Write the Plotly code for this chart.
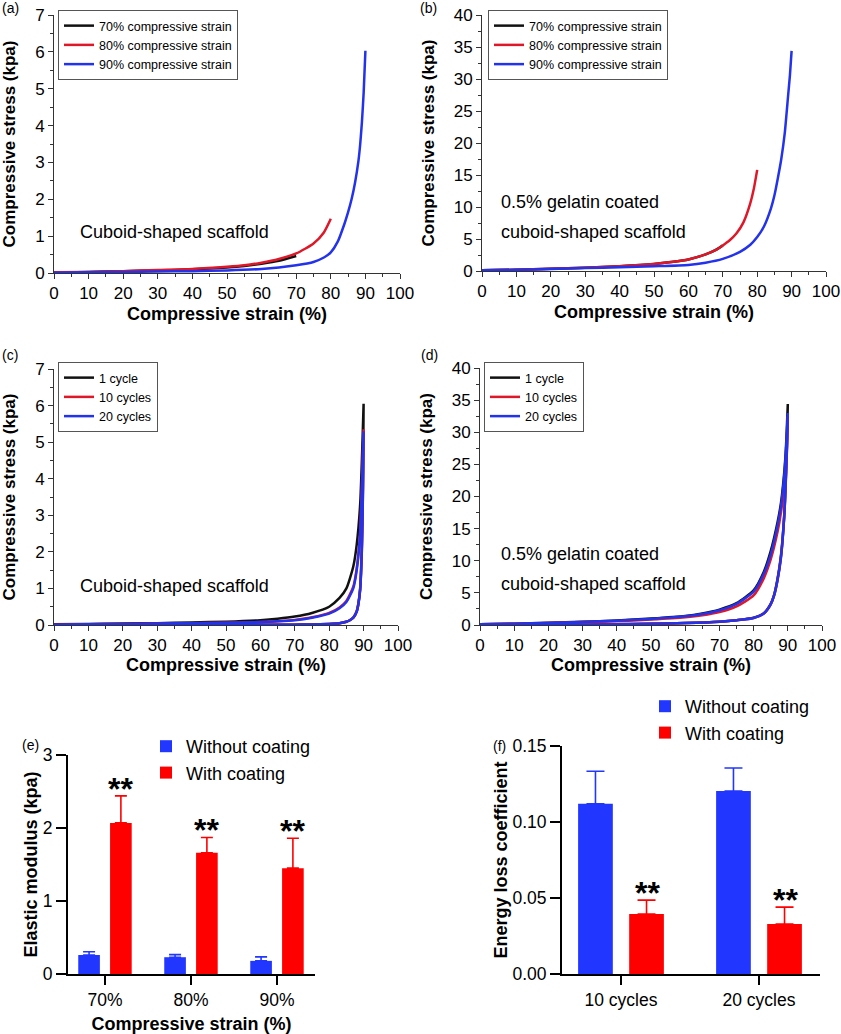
import plotly.graph_objects as go

W, H = 841, 1034
FONT = "Arial, 'Liberation Sans', sans-serif"

# ---------------- data ----------------
# (a) uncoated scaffold, compression to 70/80/90 %
strain_a70 = [0, 10, 20, 30, 40, 50, 55, 60, 65, 70]
stress_a70 = [0.01, 0.03, 0.05, 0.07, 0.10, 0.15, 0.19, 0.25, 0.33, 0.46]
strain_a80 = [0, 10, 20, 30, 40, 50, 55, 60, 65, 70, 75, 78, 80]
stress_a80 = [0.02, 0.03, 0.05, 0.08, 0.11, 0.17, 0.21, 0.28, 0.38, 0.53, 0.80, 1.10, 1.47]
strain_a90 = [0, 10, 20, 30, 40, 50, 60, 65, 70, 75, 78, 80, 82, 84, 85, 86, 87, 88, 88.5, 89, 89.5, 90]
stress_a90 = [0.01, 0.02, 0.03, 0.04, 0.05, 0.07, 0.11, 0.15, 0.21, 0.30, 0.42, 0.56, 0.85, 1.35,
              1.65, 2.0, 2.45, 3.05, 3.5, 4.1, 4.9, 6.03]

# (b) gelatin-coated scaffold
strain_b70 = [0, 10, 20, 30, 40, 50, 55, 60, 65, 68, 70]
stress_b70 = [0.1, 0.2, 0.35, 0.5, 0.75, 1.1, 1.4, 1.8, 2.6, 3.3, 4.0]
strain_b80 = [0, 10, 20, 30, 40, 50, 55, 60, 65, 68, 70, 72, 74, 76, 78, 79, 80]
stress_b80 = [0.1, 0.2, 0.35, 0.5, 0.75, 1.1, 1.4, 1.8, 2.6, 3.3, 4.0, 4.8, 5.9, 7.6, 10.6, 12.8, 15.8]
strain_b90 = [0, 10, 20, 30, 40, 50, 60, 65, 70, 75, 78, 80, 82, 84, 85, 86, 87, 88, 89, 89.5, 90]
stress_b90 = [0.1, 0.2, 0.3, 0.45, 0.6, 0.75, 0.95, 1.3, 1.9, 3.0, 4.1, 5.3, 7.0, 9.8, 11.8, 14.5,
              17.5, 21.5, 27.5, 30.5, 34.4]

# (c) uncoated scaffold, cyclic loading (loading branch then unloading branch)
strain_c_load = [0, 10, 20, 30, 40, 50, 60, 65, 70, 75, 80, 83, 85, 87, 88, 89, 89.5, 90]
stress_c1_load = [0.02, 0.03, 0.04, 0.05, 0.07, 0.09, 0.13, 0.17, 0.23, 0.33, 0.50, 0.74, 1.0, 1.6, 2.2, 3.3, 4.5, 6.05]
stress_c10_load = [0.01, 0.02, 0.03, 0.04, 0.05, 0.06, 0.08, 0.10, 0.14, 0.21, 0.33, 0.48, 0.66, 1.05, 1.55, 2.55, 3.8, 5.35]
stress_c20_load = [0.01, 0.02, 0.03, 0.04, 0.05, 0.06, 0.08, 0.10, 0.13, 0.20, 0.31, 0.46, 0.63, 1.0, 1.5, 2.5, 3.7, 5.30]
strain_c_unload = [90, 89.8, 89.5, 89, 88.5, 88, 87, 86, 85, 83, 80, 75, 70, 60, 50, 40, 30, 20, 10, 0]
stress_c1_unload = [6.05, 3.8, 2.2, 1.0, 0.6, 0.38, 0.2, 0.13, 0.09, 0.05, 0.03, 0.015, 0.01, 0.005, 0, 0, 0, 0, 0, 0]
stress_c10_unload = [5.35, 3.6, 2.1, 0.98, 0.58, 0.37, 0.2, 0.13, 0.09, 0.05, 0.03, 0.015, 0.01, 0.005, 0, 0, 0, 0, 0, 0]
stress_c20_unload = [5.30, 3.55, 2.05, 0.96, 0.57, 0.36, 0.2, 0.13, 0.09, 0.05, 0.03, 0.015, 0.01, 0.005, 0, 0, 0, 0, 0, 0]

# (d) gelatin-coated scaffold, cyclic loading
strain_d_load = [0, 10, 20, 30, 40, 50, 60, 65, 70, 75, 80, 83, 85, 87, 88, 89, 89.5, 90]
stress_d1_load = [0.1, 0.2, 0.35, 0.5, 0.7, 1.0, 1.4, 1.8, 2.4, 3.4, 5.4, 8.3, 11.5, 16, 19, 24, 28, 34.4]
stress_d10_load = [0.1, 0.2, 0.3, 0.45, 0.6, 0.85, 1.2, 1.5, 2.0, 2.9, 4.6, 7.3, 10.2, 14.5, 17.5, 22, 26, 32.5]
stress_d20_load = [0.1, 0.2, 0.33, 0.48, 0.68, 0.95, 1.35, 1.7, 2.3, 3.3, 5.2, 8.0, 11.0, 15.5, 18.5, 23.5, 27.5, 33.0]
strain_d_unload = [90, 89.8, 89.5, 89, 88, 87, 86, 85, 83, 80, 75, 70, 60, 50, 40, 30, 20, 10, 0]
stress_d1_unload = [34.4, 29, 24, 17.5, 10.8, 7.2, 4.7, 3.3, 1.85, 1.15, 0.75, 0.52, 0.3, 0.18, 0.1, 0.05, 0.02, 0, 0]
stress_d10_unload = [32.5, 28, 23.5, 17.2, 10.6, 7.0, 4.6, 3.2, 1.8, 1.1, 0.75, 0.52, 0.3, 0.18, 0.1, 0.05, 0.02, 0, 0]
stress_d20_unload = [33.0, 28.5, 23.8, 17.4, 10.5, 7.0, 4.6, 3.2, 1.8, 1.1, 0.75, 0.52, 0.3, 0.18, 0.1, 0.05, 0.02, 0, 0]

# (e) elastic modulus
cats_e = ["70%", "80%", "90%"]
modulus_without = [0.26, 0.23, 0.18]
modulus_without_err = [0.045, 0.035, 0.055]
modulus_with = [2.07, 1.66, 1.45]
modulus_with_err = [0.37, 0.21, 0.41]

# (f) energy loss coefficient
cats_f = ["10 cycles", "20 cycles"]
loss_without = [0.112, 0.1204]
loss_without_err = [0.0214, 0.0151]
loss_with = [0.0394, 0.0329]
loss_with_err = [0.0092, 0.0111]

# ---------------- styling ----------------
BLACK = "#111111"
RED_L = "rgb(222,24,40)"
BLUE_L = "rgb(35,50,235)"
BLUE_B = "rgb(33,55,255)"
RED_B = "rgb(255,0,0)"


def fx(p):
    return p / W


def fy(p):
    return 1 - p / H


fig = go.Figure()


def line(x, y, color, name, xa, ya, leg, show=True):
    fig.add_trace(go.Scatter(
        x=x, y=y, mode="lines", name=name,
        line=dict(color=color, width=2.5, shape="spline", smoothing=0.6),
        xaxis=xa, yaxis=ya, legend=leg, showlegend=show))


# (a)
line(strain_a70, stress_a70, BLACK, "70% compressive strain", "x", "y", "legend")
line(strain_a80, stress_a80, RED_L, "80% compressive strain", "x", "y", "legend")
line(strain_a90, stress_a90, BLUE_L, "90% compressive strain", "x", "y", "legend")
# (b)
line(strain_b70, stress_b70, BLACK, "70% compressive strain", "x2", "y2", "legend2")
line(strain_b80, stress_b80, RED_L, "80% compressive strain", "x2", "y2", "legend2")
line(strain_b90, stress_b90, BLUE_L, "90% compressive strain", "x2", "y2", "legend2")
# (c)
for load, unload, col, nm in [(stress_c1_load, stress_c1_unload, BLACK, "1 cycle"),
                              (stress_c10_load, stress_c10_unload, RED_L, "10 cycles"),
                              (stress_c20_load, stress_c20_unload, BLUE_L, "20 cycles")]:
    line(strain_c_load + strain_c_unload, load + unload, col, nm, "x3", "y3", "legend3")
# (d)
for load, unload, col, nm in [(stress_d1_load, stress_d1_unload, BLACK, "1 cycle"),
                              (stress_d10_load, stress_d10_unload, RED_L, "10 cycles"),
                              (stress_d20_load, stress_d20_unload, BLUE_L, "20 cycles")]:
    line(strain_d_load + strain_d_unload, load + unload, col, nm, "x4", "y4", "legend4")


def bar(x, y, err, color, name, xa, ya, leg, capw):
    fig.add_trace(go.Bar(
        x=x, y=y, name=name, marker=dict(color=color, line=dict(width=0)),
        error_y=dict(type="data", array=err, arrayminus=[0] * len(err), symmetric=False,
                     color=color, thickness=1.6, width=capw),
        xaxis=xa, yaxis=ya, legend=leg))


bar(cats_e, modulus_without, modulus_without_err, BLUE_B, "Without coating", "x5", "y5", "legend5", 6)
bar(cats_e, modulus_with, modulus_with_err, RED_B, "With coating", "x5", "y5", "legend5", 6)
bar(cats_f, loss_without, loss_without_err, BLUE_B, "Without coating", "x6", "y6", "legend6", 9)
bar(cats_f, loss_with, loss_with_err, RED_B, "With coating", "x6", "y6", "legend6", 9)

# ---------------- axes ----------------
AX = "#333333"


def curve_x(dom, anchor, standoff):
    return dict(domain=dom, anchor=anchor, range=[0, 100], dtick=10, tick0=0, ticks="outside", ticklen=5,
                tickwidth=1, tickcolor=AX, showline=True, linecolor=AX, linewidth=1, showgrid=False,
                zeroline=False, automargin=False,
                minor=dict(dtick=5, ticks="outside", ticklen=3, tickcolor=AX, tickwidth=1),
                tickfont=dict(size=17, color="black"),
                title=dict(text="<b>Compressive strain (%)</b>", font=dict(size=18, color="black"),
                           standoff=standoff))


def curve_y(dom, anchor, ymax, dt, mdt, standoff):
    return dict(domain=dom, anchor=anchor, range=[0, ymax], dtick=dt, tick0=0, ticks="outside", ticklen=5,
                tickwidth=1, tickcolor=AX, showline=True, linecolor=AX, linewidth=1, showgrid=False,
                zeroline=False, automargin=False,
                minor=dict(dtick=mdt, ticks="outside", ticklen=3, tickcolor=AX, tickwidth=1),
                tickfont=dict(size=17, color="black"),
                title=dict(text="<b>Compressive stress (kpa)</b>", font=dict(size=17, color="black"),
                           standoff=standoff))


bar_common = dict(showline=True, linecolor="black", linewidth=2, ticks="outside", tickwidth=2,
                  tickcolor="black", showgrid=False, zeroline=False, automargin=False)

layout = dict(
    template="none",
    width=W, height=H, margin=dict(l=0, r=0, t=0, b=0, autoexpand=False),
    paper_bgcolor="white", plot_bgcolor="white",
    font=dict(family=FONT, color="black"),
    barmode="group", bargap=0.26, bargroupgap=0.32,
    xaxis=curve_x([fx(54), fx(400)], "y", 4),
    yaxis=curve_y([fy(273), fy(15)], "x", 7, 1, 0.5, 16),
    xaxis2=curve_x([fx(482), fx(826)], "y2", 4),
    yaxis2=curve_y([fy(271), fy(15)], "x2", 40, 5, 2.5, 14),
    xaxis3=curve_x([fx(54), fx(398)], "y3", 0),
    yaxis3=curve_y([fy(625), fy(369)], "x3", 7, 1, 0.5, 16),
    xaxis4=curve_x([fx(480), fx(822)], "y4", 0),
    yaxis4=curve_y([fy(625), fy(368)], "x4", 40, 5, 2.5, 14),
    xaxis5=dict(domain=[fx(68), fx(315)], anchor="y5", type="category", range=[-0.43, 2.442],
                ticklen=9, tickfont=dict(size=17.5),
                title=dict(text="<b>Compressive strain (%)</b>", font=dict(size=18), standoff=10),
                **bar_common),
    yaxis5=dict(domain=[fy(974), fy(755)], anchor="x5", range=[0, 3], dtick=1, ticklen=10,
                tickfont=dict(size=17.5),
                title=dict(text="<b>Elastic modulus (kpa)</b>", font=dict(size=18), standoff=0),
                **bar_common),
    xaxis6=dict(domain=[fx(562), fx(820)], anchor="y6", type="category", range=[-0.4275, 1.442],
                ticklen=9, tickfont=dict(size=17.5), **bar_common),
    yaxis6=dict(domain=[fy(974), fy(746)], anchor="x6", range=[0, 0.15], dtick=0.05,
                tickformat=".2f", ticklen=10, tickfont=dict(size=17.5),
                title=dict(text="<b>Energy loss coefficient</b>", font=dict(size=18), standoff=0),
                **bar_common),
)


def small_legend(x, y):
    return dict(x=fx(x), y=fy(y), xanchor="left", yanchor="top", bgcolor="white", bordercolor="#555",
                borderwidth=1, font=dict(size=12.5, color="black"), tracegroupgap=0, itemwidth=30)


layout["legend"] = small_legend(58, 10)
layout["legend2"] = small_legend(488, 10)
layout["legend3"] = small_legend(58, 362)
layout["legend4"] = small_legend(484, 362)
layout["legend5"] = dict(x=fx(146), y=fy(728), xanchor="left", yanchor="top", bgcolor="rgba(0,0,0,0)",
                         borderwidth=0, font=dict(size=18), tracegroupgap=0)
layout["legend6"] = dict(x=fx(645), y=fy(688), xanchor="left", yanchor="top", bgcolor="rgba(0,0,0,0)",
                         borderwidth=0, font=dict(size=18), tracegroupgap=0)

fig.update_layout(**layout)

# ---------------- annotations ----------------
ann = []


def note(text, x, y, size=18, xanchor="left"):
    ann.append(dict(text=text, x=fx(x), y=fy(y), xref="paper", yref="paper", xanchor=xanchor,
                    yanchor="middle", showarrow=False, font=dict(size=size, color="black")))


note("(a)", 0, 8, 14)
note("(b)", 418, 8, 14)
note("(c)", 0, 355, 14)
note("(d)", 419, 355, 14)
note("(e)", 20, 745, 14)
note("(f)", 491, 746, 14)
note("Cuboid-shaped scaffold", 78, 232)
note("0.5% gelatin coated", 499, 202)
note("cuboid-shaped scaffold", 499, 232)
note("Cuboid-shaped scaffold", 78, 586)
note("0.5% gelatin coated", 499, 554)
note("cuboid-shaped scaffold", 499, 584)

for c, v, e in zip(cats_e, modulus_with, modulus_with_err):
    ann.append(dict(text="<b>**</b>", x=c, y=v + e, xref="x5", yref="y5", xshift=16, yshift=-13,
                    xanchor="center", yanchor="bottom", showarrow=False, font=dict(size=32, color="black")))
for c, v, e in zip(cats_f, loss_with, loss_with_err):
    ann.append(dict(text="<b>**</b>", x=c, y=v + e, xref="x6", yref="y6", xshift=26, yshift=-13,
                    xanchor="center", yanchor="bottom", showarrow=False, font=dict(size=32, color="black")))

fig.update_layout(annotations=ann)
fig.write_html("out.html", config={"displayModeBar": False},
               post_script="document.body.style.margin='0px';document.body.style.overflow='hidden';")
